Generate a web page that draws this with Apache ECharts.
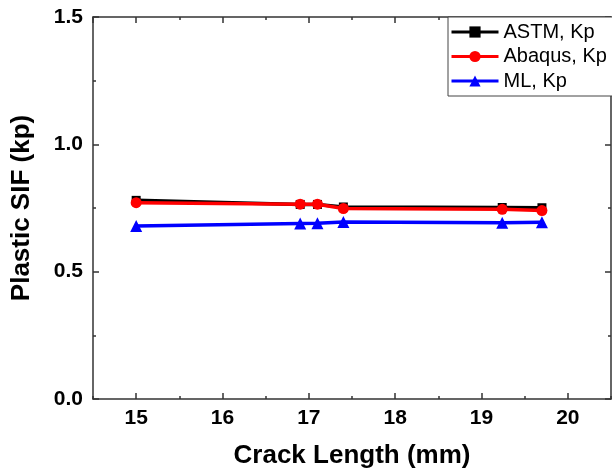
<!DOCTYPE html>
<html>
<head>
<meta charset="utf-8">
<script src="https://cdn.jsdelivr.net/npm/echarts@6/dist/echarts.min.js"></script>
<style>
    html, body { margin: 0; padding: 0; background: #fff; }
    #chart-container { width: 612px; height: 474px; }
</style>
</head>
<body>
<div id="chart-container"></div>
<script>
// crack length (mm)
var crackLength = [15, 16.9, 17.1, 17.4, 19.24, 19.7];
// plastic SIF
var astmKp = [0.780, 0.764, 0.764, 0.754, 0.752, 0.751];
var abaqusKp = [0.771, 0.765, 0.765, 0.748, 0.745, 0.740];
var mlKp = [0.679, 0.689, 0.690, 0.695, 0.692, 0.694];

var seriesNames = ['ASTM, Kp', 'Abaqus, Kp', 'ML, Kp'];
var yTicks = [0, 0.5, 1.0, 1.5];

function pairs(xs, ys) {
    return xs.map(function (x, i) { return [x, ys[i]]; });
}

var dom = document.getElementById('chart-container');
var myChart = echarts.init(dom, null, { renderer: 'canvas' });

var axisLine = { show: true, lineStyle: { color: '#333', width: 1.5 } };
var font = 'Arial, "Liberation Sans", sans-serif';

function xAxisBase(pos, major) {
    return {
        type: 'value',
        position: pos,
        min: 14.5,
        max: 20.5,
        splitNumber: 6,
        interval: major ? undefined : 0.5,
        axisLine: major ? axisLine : { show: false },
        axisTick: { show: true, inside: true, length: major ? 6 : 3, lineStyle: { color: '#333', width: 1.5 } },
        axisLabel: {
            show: pos === 'bottom' && major,
            showMinLabel: false,
            showMaxLabel: false,
            margin: 9,
            color: '#000',
            fontFamily: font,
            fontWeight: 'bold',
            fontSize: 21,
            formatter: function (v) { return Number.isInteger(v) ? String(v) : ''; }
        },
        splitLine: { show: false }
    };
}

function yAxisBase(pos) {
    return {
        type: 'value',
        position: pos,
        min: yTicks[0],
        max: yTicks[yTicks.length - 1],
        interval: 0.5,
        axisLine: axisLine,
        axisTick: { show: true, inside: true, length: 6, lineStyle: { color: '#333', width: 1.5 } },
        minorTick: { show: true, splitNumber: 2, length: 3, lineStyle: { color: '#333', width: 1.5 } },
        axisLabel: {
            show: pos === 'left',
            margin: 10,
            color: '#000',
            fontFamily: font,
            fontWeight: 'bold',
            fontSize: 21,
            formatter: function (v) { return v.toFixed(1); }
        },
        splitLine: { show: false }
    };
}

var xMain = xAxisBase('bottom', true);
xMain.name = 'Crack Length (mm)';
xMain.nameLocation = 'middle';
xMain.nameGap = 44;
xMain.nameTextStyle = { color: '#000', fontFamily: font, fontWeight: 'bold', fontSize: 26 };

var yMain = yAxisBase('left');
yMain.name = 'Plastic SIF (kp)';
yMain.nameLocation = 'middle';
yMain.nameGap = 58;
yMain.nameTextStyle = { color: '#000', fontFamily: font, fontWeight: 'bold', fontSize: 26 };

var option = {
    animation: false,
    backgroundColor: '#fff',
    grid: { left: 93, right: 1, top: 17, bottom: 75, containLabel: false },
    legend: {
        orient: 'vertical',
        left: 448,
        top: 17,
        padding: [5, 8, 5, 2],
        itemGap: 4.5,
        itemWidth: 47,
        itemHeight: 14,
        borderColor: '#444',
        borderWidth: 1,
        backgroundColor: '#fff',
        lineStyle: { width: 3 },
        textStyle: { color: '#000', fontFamily: font, fontSize: 20, lineHeight: 20, padding: [0, 0, 0, 0] },
        data: seriesNames
    },
    xAxis: [xMain, xAxisBase('bottom', false), xAxisBase('top', true), xAxisBase('top', false)],
    yAxis: [yMain, yAxisBase('right')],
    series: [
        {
            name: seriesNames[0],
            type: 'line',
            data: pairs(crackLength, astmKp),
            symbol: 'rect',
            symbolSize: 9,
            color: '#000000',
            lineStyle: { width: 3.5 },
            z: 2
        },
        {
            name: seriesNames[1],
            type: 'line',
            data: pairs(crackLength, abaqusKp),
            symbol: 'circle',
            symbolSize: 11,
            color: '#ff0000',
            lineStyle: { width: 3.5 },
            z: 3
        },
        {
            name: seriesNames[2],
            type: 'line',
            data: pairs(crackLength, mlKp),
            symbol: 'triangle',
            symbolSize: 12,
            color: '#0000ff',
            lineStyle: { width: 3.5 },
            z: 3
        }
    ]
};

myChart.setOption(option);
window.addEventListener('resize', myChart.resize);
</script>
</body>
</html>
